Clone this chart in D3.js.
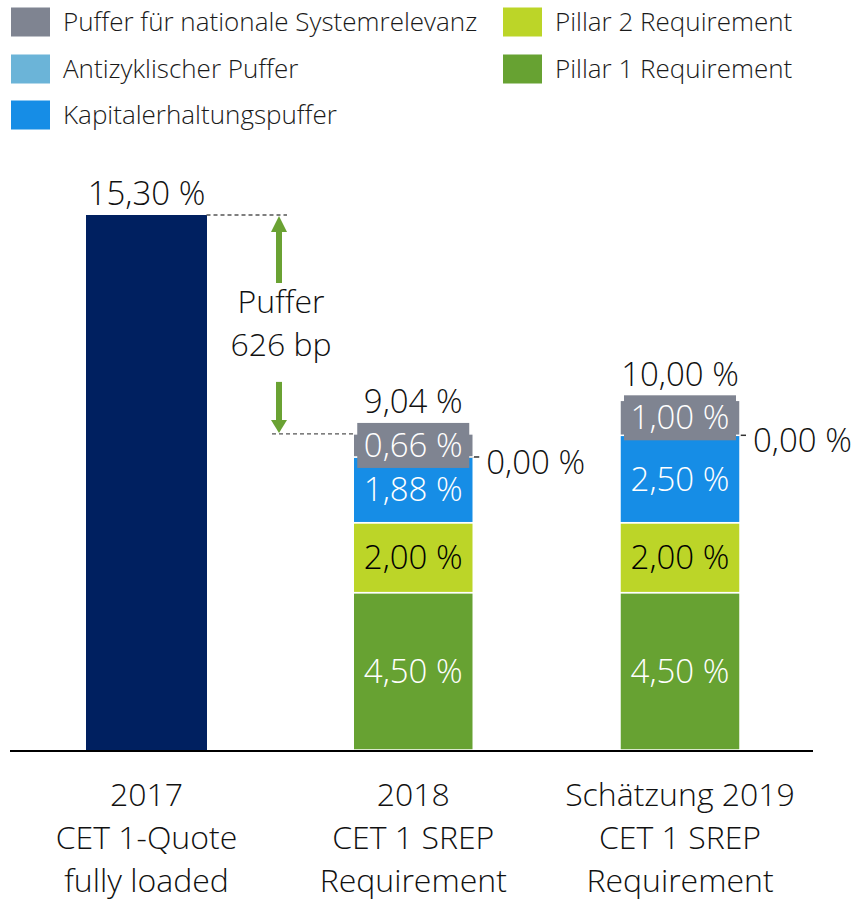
<!DOCTYPE html>
<html>
<head>
<meta charset="utf-8">
<script src="https://cdn.jsdelivr.net/npm/d3@7/dist/d3.min.js"></script>
<style>
  body { margin: 0; background: #fff; }
  svg { font-family: "Open Sans", "DejaVu Sans", sans-serif; font-weight: 300; }
</style>
</head>
<body>
<div id="chart"></div>
<script>
// data
const categories = ["2017", "2018", "Schätzung 2019"];
const catLines = [
  ["2017", "CET 1-Quote", "fully loaded"],
  ["2018", "CET 1 SREP", "Requirement"],
  ["Schätzung 2019", "CET 1 SREP", "Requirement"]
];
const cet1Quote = [15.30, 0, 0];
const pillar1 = [0, 4.50, 4.50];
const pillar2 = [0, 2.00, 2.00];
const kapitalPuffer = [0, 1.88, 2.50];
const antizyklPuffer = [0, 0.00, 0.00];
const systemPuffer = [0, 0.66, 1.00];
const totals = [15.30, 9.04, 10.00];
const pufferText = ["Puffer", "626 bp"];

const legendItems = [
  { name: "Puffer für nationale Systemrelevanz", color: "#7f8491" },
  { name: "Antizyklischer Puffer", color: "#6bb4d8" },
  { name: "Kapitalerhaltungspuffer", color: "#168de6" },
  { name: "Pillar 2 Requirement", color: "#bcd528" },
  { name: "Pillar 1 Requirement", color: "#67a232" }
];

const fmt = v => v.toFixed(2).replace(".", ",") + " %";

const W = 857, H = 901;
const svg = d3.select("#chart").append("svg").attr("width", W).attr("height", H);

const x = d3.scalePoint().domain(categories).range([146.5, 680]);
const y = d3.scaleLinear().domain([0, 15.3]).range([750, 215]);
const barW = 120;
const valSize = "33px";

// legend
const legPos = [[11, 22], [11, 69], [11, 115], [503, 22], [503, 69]];
legendItems.forEach((d, i) => {
  const g = svg.append("g").attr("transform", `translate(${legPos[i][0]},${legPos[i][1]})`);
  g.append("rect").attr("x", 0).attr("y", -14.5).attr("width", 39).attr("height", 29).attr("fill", d.color);
  g.append("text").attr("x", 52).attr("y", 9).attr("font-size", "26px").attr("fill", "#1a1a1a").text(d.name);
});

// 2017 bar
svg.append("rect")
  .attr("x", x(categories[0]) - barW / 2 - 0.5)
  .attr("width", barW + 1)
  .attr("y", y(cet1Quote[0]))
  .attr("height", y(0) - y(cet1Quote[0]))
  .attr("fill", "#002060");

// stacked bars
const stackSeries = [
  { vals: pillar1, color: "#67a232", text: "#fff" },
  { vals: pillar2, color: "#bcd528", text: "#000" },
  { vals: kapitalPuffer, color: "#168de6", text: "#fff" },
  { vals: antizyklPuffer, color: "#6bb4d8", text: "#fff", outside: true },
  { vals: systemPuffer, color: "#7f8491", text: "#fff", boxed: true }
];

[1, 2].forEach(ci => {
  const cx = x(categories[ci]);
  let base = 0;
  let labelTop = y(totals[ci]);
  stackSeries.forEach(s => {
    const v = s.vals[ci];
    const y0 = y(base), y1 = y(base + v);
    if (v > 0) {
      svg.append("rect")
        .attr("x", cx - barW / 2).attr("width", barW)
        .attr("y", y1).attr("height", y0 - y1)
        .attr("fill", s.color)
        .attr("stroke", "#fff").attr("stroke-width", 1.5);
    }
    const cy = (y0 + y1) / 2;
    if (s.outside) {
      svg.append("line")
        .attr("x1", cx + barW / 2 - 4).attr("x2", cx + barW / 2 + 6)
        .attr("y1", y1).attr("y2", y1)
        .attr("stroke", "#333").attr("stroke-width", 1.5);
      svg.append("text")
        .attr("x", cx + barW / 2 + 13).attr("y", y1 + 5)
        .attr("dy", "0.35em")
        .attr("font-size", valSize).attr("fill", "#111")
        .text(fmt(v));
    } else if (s.boxed) {
      svg.append("rect")
        .attr("x", cx - 56).attr("width", 112)
        .attr("y", cy - 22.5).attr("height", 45)
        .attr("fill", s.color);
      svg.append("text")
        .attr("x", cx).attr("y", cy)
        .attr("dy", "0.35em").attr("text-anchor", "middle")
        .attr("font-size", valSize).attr("fill", s.text)
        .text(fmt(v));
      labelTop = Math.min(labelTop, cy - 22.5);
    } else {
      svg.append("text")
        .attr("x", cx).attr("y", cy)
        .attr("dy", "0.35em").attr("text-anchor", "middle")
        .attr("font-size", valSize).attr("fill", s.text)
        .text(fmt(v));
    }
    base += v;
  });
  svg.append("text")
    .attr("x", cx).attr("y", labelTop - 21)
    .attr("dy", "0.35em").attr("text-anchor", "middle")
    .attr("font-size", valSize).attr("fill", "#111")
    .text(fmt(totals[ci]));
});

// total label 2017
svg.append("text")
  .attr("x", x(categories[0])).attr("y", y(totals[0]) - 22)
  .attr("dy", "0.35em").attr("text-anchor", "middle")
  .attr("font-size", valSize).attr("fill", "#111")
  .text(fmt(totals[0]));

// buffer annotation
const ax = 279;
const topY = y(totals[0]), botY = y(totals[1]);
svg.append("line")
  .attr("x1", x(categories[0]) + barW / 2).attr("x2", 287)
  .attr("y1", topY).attr("y2", topY)
  .attr("stroke", "#555").attr("stroke-width", 1.3).attr("stroke-dasharray", "4,3");
svg.append("line")
  .attr("x1", 272).attr("x2", x(categories[1]) - barW / 2)
  .attr("y1", botY).attr("y2", botY)
  .attr("stroke", "#555").attr("stroke-width", 1.3).attr("stroke-dasharray", "4,3");

const green = "#6aa233";
svg.append("rect").attr("x", ax - 3).attr("width", 6).attr("y", topY + 15).attr("height", 53).attr("fill", green);
svg.append("path").attr("d", `M${ax},${topY + 1}L${ax + 8},${topY + 17}L${ax - 8},${topY + 17}Z`).attr("fill", green);
svg.append("rect").attr("x", ax - 3).attr("width", 6).attr("y", botY - 52).attr("height", 40).attr("fill", green);
svg.append("path").attr("d", `M${ax},${botY - 1}L${ax + 8},${botY - 14}L${ax - 8},${botY - 14}Z`).attr("fill", green);

pufferText.forEach((t, i) => {
  svg.append("text")
    .attr("x", ax + 2).attr("y", 302 + i * 43)
    .attr("dy", "0.35em").attr("text-anchor", "middle")
    .attr("font-size", "32px").attr("fill", "#111")
    .text(t);
});

// baseline
svg.append("line")
  .attr("x1", 10).attr("x2", 813)
  .attr("y1", y(0) + 1).attr("y2", y(0) + 1)
  .attr("stroke", "#000").attr("stroke-width", 2);

// category labels
categories.forEach((c, i) => {
  catLines[i].forEach((t, j) => {
    svg.append("text")
      .attr("x", x(c)).attr("y", 795 + j * 43)
      .attr("dy", "0.35em").attr("text-anchor", "middle")
      .attr("font-size", "32px").attr("fill", "#111")
      .text(t);
  });
});
</script>
</body>
</html>
